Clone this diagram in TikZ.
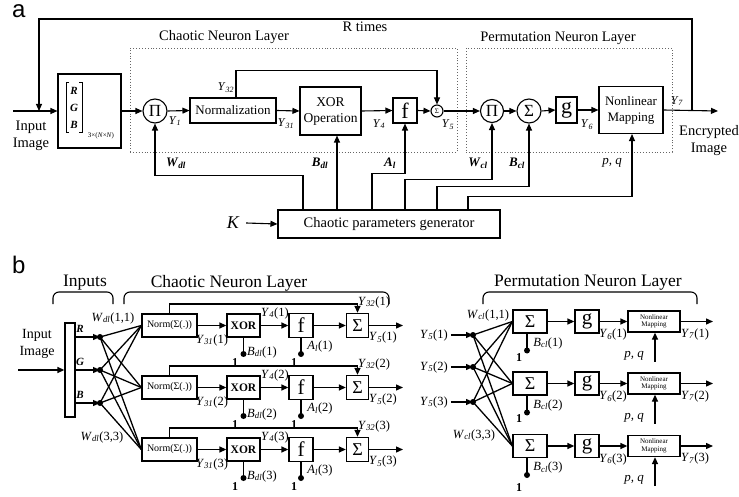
\documentclass[tikz,border=0pt]{standalone}
\usepackage{fontspec}
\setmainfont{Liberation Serif}
\newfontfamily\sansf{Liberation Sans}
\usetikzlibrary{arrows.meta,calc}
\newcommand\sbl[2]{\textit{#1}\textsubscript{\textit{#2}}}
\newcommand\fs[1]{\fontsize{#1}{#1}\selectfont}
\begin{document}
\begin{tikzpicture}[x=1pt,y=-1pt,
 ln/.style={line width=1.1pt},
 bln/.style={line width=1.3pt},
 arr/.style={-{Triangle[length=7pt,width=6pt]}},
 blk/.style={draw,line width=1.1pt,inner sep=0pt,align=center},
 bblk/.style={draw,line width=1.3pt,inner sep=0pt,align=center},
 circ/.style={draw,circle,line width=1.1pt,inner sep=0pt},
 dotbox/.style={draw=black!60,dotted,line width=0.9pt,inner sep=0pt},
 lbl/.style={inner sep=0pt,font=\fs{12}},
 lblb/.style={inner sep=0pt,font=\fs{12.5}},
 ttl/.style={inner sep=0pt,font=\fs{14.5}},
 ttlb/.style={inner sep=0pt,font=\fs{17.5}},
 dotn/.style={circle,fill,inner sep=0pt,minimum size=6pt},
 brk/.style={line width=1.1pt,rounded corners=6pt}]
\useasboundingbox[fill=white] (0,0) rectangle (739,497);

% ================= part a =================
\node[font=\sansf\fs{24},inner sep=0pt,text height=13pt,text depth=0pt,anchor=base west] (la) at (12,18) {a};
\node[dotbox,minimum width=327pt,minimum height=104pt] (cnl) at (293.5,100) {};
\node[dotbox,minimum width=206pt,minimum height=104pt] (pnl) at (569,100) {};
\node[ttl] (tcnl) at (224,37) {Chaotic Neuron Layer};
\node[ttl] (tpnl) at (558,38) {Permutation Neuron Layer};
\node[ttl] (trt) at (365,27) {R times};
\node[inner sep=0pt,align=center,font=\fontsize{14.5}{17.5}\selectfont] (tin) at (31,136) {Input\\Image};
\node[inner sep=0pt,align=center,font=\fontsize{14.5}{17}\selectfont] (tout) at (709,140.5) {Encrypted\\Image};

\node[blk,minimum width=63pt,minimum height=74pt] (rgb) at (89.5,111) {};
\draw[line width=0.9pt] (69,82) -- (66,82) -- (66,132) -- (69,132);
\draw[line width=0.9pt] (79,82) -- (82,82) -- (82,132) -- (79,132);
\node[inner sep=0pt,font=\bfseries\itshape\fs{11}] (mR) at (74,91) {R};
\node[inner sep=0pt,font=\bfseries\itshape\fs{11}] (mG) at (74,108) {G};
\node[inner sep=0pt,font=\bfseries\itshape\fs{11}] (mB) at (74,125) {B};
\node[inner sep=0pt,font=\fs{7}] (msub) at (101,136) {3×(\textit{N}×\textit{N})};

\node[circ,minimum size=24pt,font=\fs{17}] (pi1) at (155,111) {Π};
\node[blk,minimum width=86pt,minimum height=25pt,font=\fs{13}] (norm) at (233,110.5) {Normalization};
\node[blk,minimum width=61pt,minimum height=48pt,font=\fontsize{13.5}{16}\selectfont] (xor) at (330.5,111) {XOR\\Operation};
\node[blk,minimum width=24pt,minimum height=25pt,font=\fs{22}] (fa) at (405,110.5) {f};
\node[circ,minimum size=12pt,font=\fs{7}] (s1) at (437,111) {Σ};
\node[circ,minimum size=23pt,font=\fs{17}] (pi2) at (492,111) {Π};
\node[circ,minimum size=24pt,font=\fs{17}] (s2) at (529,111) {Σ};
\node[blk,minimum width=21pt,minimum height=26pt,font=\fs{22}] (ga) at (566.5,110) {g};
\node[blk,minimum width=64pt,minimum height=47pt,font=\fontsize{13}{16}\selectfont] (nm) at (631,110) {Nonlinear\\Mapping};
\node[blk,minimum width=222pt,minimum height=28pt,font=\fs{14.5}] (gen) at (389,224) {Chaotic parameters generator};
\node[inner sep=0pt,font=\itshape\fs{18}] (K) at (233,223) {K};

\coordinate (inA) at (13,111);
\coordinate (outA) at (718,111);
\coordinate (fbA) at (692,111);
\coordinate (fbB) at (39,111);

\draw[ln,arr] (inA) -- (rgb.west);
\draw[ln,arr] (fbA) -- (692,19) -- (39,19) -- (fbB);
\draw[ln,arr] (rgb.east) -- (pi1.west);
\draw[ln,arr] (pi1.east) -- (norm.west);
\draw[ln,arr] (norm.east) -- (xor.west);
\draw[ln,arr] (xor.east) -- (fa.west);
\draw[ln,arr] (fa.east) -- (s1.west);
\draw[ln,arr] (s1.east) -- (pi2.west);
\draw[ln,arr] (pi2.east) -- (s2.west);
\draw[ln,arr] (s2.east) -- (ga.west);
\draw[ln,arr] (ga.east) -- (nm.west);
\draw[ln,arr] (nm.east) -- (outA);
\draw[ln,arr] ([xshift=3pt]norm.north) -- ++(0,-27) -| (s1.north);
\draw[ln,arr] ([xshift=7pt]K.east) -- (gen.west);

\draw[ln,arr] ([xshift=-86pt]gen.north) -- ++(0,-34) -| (pi1.south);
\draw[ln,arr] ([xshift=-52pt]gen.north) -- ([xshift=6.5pt]xor.south);
\draw[ln,arr] ([xshift=-17pt]gen.north) -- ++(0,-36) -| (fa.south);
\draw[ln,arr] ([xshift=16pt]gen.north) -- ++(0,-29.5) -| (pi2.south);
\draw[ln,arr] ([xshift=48pt]gen.north) -- ++(0,-23) -| (s2.south);
\draw[ln,arr] ([xshift=79pt]gen.north) -- ++(0,-13) -| ([xshift=1pt]nm.south);

\node[lbl] (ly1) at (175,121) {\sbl{Y}{1}};
\node[lbl] (ly32) at (226,88) {\sbl{Y}{32}};
\node[lbl] (ly31) at (286,124) {\sbl{Y}{31}};
\node[lbl] (ly4) at (379,124) {\sbl{Y}{4}};
\node[lbl] (ly5) at (448,125) {\sbl{Y}{5}};
\node[lbl] (ly6) at (587,125) {\sbl{Y}{6}};
\node[lbl] (ly7) at (677,101) {\sbl{Y}{7}};
\node[lbl,font=\bfseries\fs{13}] (lwd) at (176,163) {\sbl{W}{dl}};
\node[lbl,font=\bfseries\fs{13}] (lbd) at (320,163) {\sbl{B}{dl}};
\node[lbl,font=\bfseries\fs{13}] (la1) at (390,163) {\sbl{A}{l}};
\node[lbl,font=\bfseries\fs{13}] (lwc) at (478,163) {\sbl{W}{cl}};
\node[lbl,font=\bfseries\fs{13}] (lbc) at (517,163) {\sbl{B}{cl}};
\node[lbl,font=\itshape\fs{13}] (lpq) at (612,163) {p, q};

% ================= part b =================
\node[font=\sansf\fs{24},inner sep=0pt,anchor=base west] (lb) at (12,273) {b};
\node[ttlb] (tinp) at (85,283) {Inputs};
\node[ttlb] (tcnlb) at (229,283) {Chaotic Neuron Layer};
\node[ttlb] (tpnlb) at (588,283) {Permutation Neuron Layer};
\draw[brk] (53,304) -- (53,292) -- (113,292) -- (113,304);
\draw[brk] (124,304) -- (124,292) -- (389,292) -- (389,304);
\draw[brk] (483,304) -- (483,292) -- (697,292) -- (697,304);

\node[inner sep=0pt,align=center,font=\fontsize{14}{16.5}\selectfont] (tinb) at (37,344) {Input\\Image};
\node[bblk,minimum width=10pt,minimum height=94pt] (bar) at (70,370) {};
\coordinate (inB) at (18,370);
\draw[bln,arr] (inB) -- (bar.west);

\foreach \n/\y/\c in {R/337/R,G/370/G,B/403/B}{
  \node[dotn] (d\n) at (100,\y) {};
  \node[inner sep=0pt,font=\bfseries\itshape\fs{11}] (l\n) at (80,{\y-8}) {\c};
  \draw[bln,arr] (bar.east |- d\n) -- (d\n.center);
}

\foreach \i/\y in {1/325.5,2/387.5,3/449.5}{
  \node[bblk,minimum width=55pt,minimum height=23pt,font=\fs{10}] (nb\i) at (169.5,\y) {Norm(Σ(.))};
  \node[bblk,minimum width=33pt,minimum height=23pt,font=\bfseries\fs{11.5}] (xb\i) at (243.5,\y) {XOR};
  \node[bblk,minimum width=24pt,minimum height=24pt,font=\fs{21}] (fb\i) at (301,\y) {f};
  \node[bblk,minimum width=22pt,minimum height=24pt,font=\fs{18}] (sb\i) at (357.5,\y) {Σ};
  \coordinate (ob\i) at (403,\y);
  \node[dotn] (bd\i) at (243.5,{\y+28.5}) {};
  \node[dotn] (ad\i) at (301,{\y+28.5}) {};
  \draw[bln,arr] (nb\i) -- (xb\i);
  \draw[bln,arr] (xb\i) -- (fb\i);
  \draw[bln,arr] (fb\i) -- (sb\i);
  \draw[bln,arr] (sb\i) -- (ob\i);
  \draw[bln,arr] (nb\i.north) -- ++(0,-9.5) -| (sb\i.north);
  \draw[bln] (xb\i) -- (bd\i.center);
  \draw[bln] (fb\i) -- (ad\i.center);
  \foreach \d in {dR,dG,dB}{ \draw[bln] (\d.center) -- (nb\i.west); }
  \node[inner sep=0pt,font=\bfseries\fs{12}] (ob1\i) at (235,{\y+37}) {1};
  \node[inner sep=0pt,font=\bfseries\fs{12}] (oa1\i) at (294,{\y+37}) {1};
  \node[lblb] (lbd\i) at (262,{\y+26.5}) {\sbl{B}{dl}(\i)};
  \node[lblb] (lad\i) at (320,{\y+21}) {\sbl{A}{l}(\i)};
  \node[lblb] (ly31\i) at (212,{\y+14.5}) {\sbl{Y}{31}(\i)};
  \node[lblb] (ly4\i) at (275,{\y-12.5}) {\sbl{Y}{4}(\i)};
  \node[lblb] (ly32\i) at (374,{\y-23.5}) {\sbl{Y}{32}(\i)};
  \node[lblb] (ly5\i) at (383,{\y+12}) {\sbl{Y}{5}(\i)};
}
\node[lblb] (lw11) at (113,318) {\sbl{W}{dl}(1,1)};
\node[lblb] (lw33) at (102,437) {\sbl{W}{dl}(3,3)};

% permutation part
\foreach \i/\y in {1/335,2/367,3/402}{
  \node[dotn] (pd\i) at (473,\y) {};
  \node[lblb] (lpin\i) at (434,\y) {\sbl{Y}{5}(\i)};
  \draw[bln,arr] ([xshift=3pt]lpin\i.east) -- (pd\i.center);
}
\foreach \i/\y/\oy in {1/321.5/36,2/383.5/35,3/446/42}{
  \node[bblk,minimum width=34pt,minimum height=23pt,font=\fs{18}] (ps\i) at (530,\y) {Σ};
  \node[bblk,minimum width=24pt,minimum height=23pt,font=\fs{21}] (pg\i) at (587,\y) {g};
  \node[bblk,minimum width=52pt,minimum height=21pt,font=\fontsize{7}{7.5}\selectfont] (pm\i) at (654,\y) {Nonlinear\\Mapping};
  \coordinate (po\i) at (713,\y);
  \coordinate (ppq\i) at (655,{\y+40});
  \node[dotn] (pb\i) at (527,{\y+29}) {};
  \draw[bln,arr] (ps\i) -- (pg\i);
  \draw[bln,arr] (pg\i) -- (pm\i);
  \draw[bln,arr] (pm\i) -- (po\i);
  \draw[bln,arr] (ppq\i) -- (pm\i.south -| ppq\i);
  \draw[bln] (ps\i.south -| pb\i) -- (pb\i.center);
  \foreach \d in {pd1,pd2,pd3}{ \draw[bln] (\d.center) -- (ps\i.west); }
  \node[inner sep=0pt,font=\bfseries\fs{12}] (pone\i) at (519,{\y+\oy}) {1};
  \node[lblb] (lbc\i) at (548,{\y+21.5}) {\sbl{B}{cl}(\i)};
  \node[lblb] (ly6\i) at (613,{\y+13}) {\sbl{Y}{6}(\i)};
  \node[lblb] (ly7\i) at (695,{\y+12.5}) {\sbl{Y}{7}(\i)};
  \node[lblb,font=\itshape\fs{13}] (lpq\i) at (634,{\y+34}) {p, q};
}
\node[lblb] (lwc11) at (488,315) {\sbl{W}{cl}(1,1)};
\node[lblb] (lwc33) at (474,435) {\sbl{W}{cl}(3,3)};
\end{tikzpicture}
\end{document}
